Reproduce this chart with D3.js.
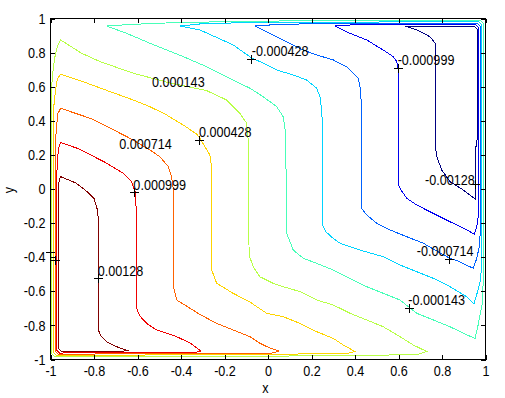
<!DOCTYPE html>
<html>
<head>
<meta charset="utf-8">
<script src="https://cdn.jsdelivr.net/npm/d3@7"></script>
<style>
  body { margin: 0; background: #fff; }
  svg { display: block; }
  text { font-family: "Liberation Sans", Arial, sans-serif; }
</style>
</head>
<body>
<svg id="viz" width="505" height="398"></svg>
<script>
// contour levels and their label strings
const levels = [0.00128, 0.000999, 0.000714, 0.000428, 0.000143,
                -0.000143, -0.000428, -0.000714, -0.000999, -0.00128];
const levelText = ["0.00128", "0.000999", "0.000714", "0.000428", "0.000143",
                   "-0.000143", "-0.000428", "-0.000714", "-0.000999", "-0.00128"];

// one closed contour line per level, [x, y] in data units
const line00128 = [[-0.954,0.073],[-0.883,0.035],[-0.832,-0.015],[-0.800,-0.056],[-0.784,-0.123],[-0.780,-0.182],
  [-0.780,-0.827],[-0.768,-0.862],[-0.742,-0.896],[-0.696,-0.925],[-0.639,-0.950],[-0.775,-0.951],[-0.950,-0.953],
  [-0.964,-0.935],[-0.964,0.006],[-0.961,0.043]];
const line000999 = [[-0.953,0.272],[-0.877,0.239],[-0.754,0.160],[-0.665,0.092],[-0.627,0.043],[-0.611,-0.016],
  [-0.607,-0.065],[-0.604,-0.700],[-0.589,-0.745],[-0.558,-0.788],[-0.512,-0.827],[-0.420,-0.866],[-0.359,-0.903],
  [-0.309,-0.950],[-0.330,-0.958],[-0.958,-0.962],[-0.972,-0.944],[-0.972,0.100],[-0.969,0.121],[-0.966,0.199],
  [-0.961,0.248]];
const line000714 = [[-0.953,0.473],[-0.818,0.415],[-0.726,0.357],[-0.619,0.287],[-0.543,0.229],[-0.497,0.189],
  [-0.458,0.131],[-0.443,0.072],[-0.435,-0.006],[-0.435,-0.570],[-0.420,-0.651],[-0.374,-0.687],[-0.313,-0.736],
  [-0.236,-0.788],[-0.160,-0.827],[-0.083,-0.866],[-0.037,-0.905],[0.009,-0.933],[0.051,-0.950],[0.020,-0.962],
  [-0.965,-0.969],[-0.979,-0.951],[-0.979,0.170],[-0.977,0.276],[-0.972,0.370],[-0.966,0.443]];
const line000428 = [[-0.953,0.673],[-0.849,0.629],[-0.726,0.571],[-0.619,0.522],[-0.543,0.483],[-0.466,0.434],
  [-0.389,0.375],[-0.328,0.322],[-0.313,0.297],[-0.290,0.248],[-0.267,0.199],[-0.259,0.123],[-0.259,-0.475],
  [-0.236,-0.553],[-0.160,-0.612],[-0.083,-0.663],[-0.006,-0.729],[0.070,-0.749],[0.147,-0.788],[0.224,-0.837],
  [0.300,-0.876],[0.346,-0.915],[0.400,-0.953],[0.360,-0.966],[-0.973,-0.977],[-0.987,-0.959],[-0.987,0.405],
  [-0.984,0.493],[-0.977,0.581],[-0.968,0.648]];
const line000143 = [[-0.953,0.874],[-0.857,0.796],[-0.772,0.747],[-0.619,0.679],[-0.451,0.622],[-0.282,0.577],
  [-0.190,0.522],[-0.129,0.444],[-0.098,0.385],[-0.091,0.287],[-0.087,-0.387],[-0.068,-0.456],[-0.037,-0.515],
  [0.024,-0.553],[0.070,-0.573],[0.147,-0.602],[0.224,-0.651],[0.300,-0.680],[0.377,-0.729],[0.454,-0.768],
  [0.530,-0.808],[0.607,-0.866],[0.668,-0.915],[0.730,-0.953],[0.690,-0.970],[0.400,-0.978],[-0.980,-0.985],
  [-0.994,-0.967],[-0.994,0.610],[-0.989,0.688],[-0.981,0.767],[-0.969,0.835]];
const lineM000143 = [[-0.742,0.956],[-0.650,0.913],[-0.543,0.855],[-0.389,0.776],[-0.282,0.717],[-0.160,0.639],
  [-0.083,0.591],[-0.022,0.541],[0.040,0.483],[0.070,0.424],[0.081,0.327],[0.086,-0.260],[0.116,-0.358],
  [0.162,-0.406],[0.224,-0.436],[0.300,-0.475],[0.377,-0.524],[0.454,-0.573],[0.530,-0.612],[0.607,-0.651],
  [0.684,-0.729],[0.760,-0.768],[0.837,-0.808],[0.898,-0.846],[0.952,-0.877],[0.966,-0.798],[0.984,-0.680],
  [0.990,-0.534],[0.990,0.971],[0.976,0.989],[0.147,0.987],[-0.405,0.977],[-0.634,0.965]];
const lineM000428 = [[-0.405,0.956],[-0.313,0.933],[-0.160,0.845],[-0.075,0.768],[-0.022,0.739],[0.040,0.698],
  [0.116,0.669],[0.178,0.639],[0.224,0.591],[0.239,0.541],[0.247,0.463],[0.251,0.346],[0.251,-0.211],
  [0.267,-0.252],[0.300,-0.290],[0.331,-0.318],[0.423,-0.358],[0.530,-0.397],[0.607,-0.446],[0.684,-0.485],
  [0.760,-0.524],[0.837,-0.573],[0.914,-0.632],[0.947,-0.674],[0.963,-0.604],[0.975,-0.545],[0.983,-0.446],
  [0.983,0.963],[0.969,0.981],[0.377,0.979],[-0.083,0.977],[-0.313,0.968]];
const lineM000714 = [[-0.060,0.956],[0.009,0.913],[0.086,0.864],[0.162,0.815],[0.224,0.786],[0.300,0.757],
  [0.362,0.717],[0.392,0.679],[0.415,0.649],[0.423,0.600],[0.428,0.522],[0.428,-0.111],[0.454,-0.152],
  [0.500,-0.201],[0.561,-0.240],[0.638,-0.280],[0.714,-0.318],[0.791,-0.375],[0.834,-0.405],[0.868,-0.420],
  [0.944,-0.465],[0.960,-0.406],[0.970,-0.346],[0.975,-0.270],[0.975,0.954],[0.961,0.972],[0.515,0.972],
  [0.147,0.968],[0.009,0.962]];
const lineM000999 = [[0.308,0.956],[0.377,0.913],[0.454,0.874],[0.530,0.815],[0.576,0.776],[0.592,0.747],
  [0.599,0.698],[0.599,0.023],[0.615,-0.012],[0.638,-0.055],[0.684,-0.094],[0.760,-0.143],[0.837,-0.192],
  [0.914,-0.240],[0.949,-0.266],[0.961,-0.211],[0.968,-0.152],[0.968,0.946],[0.954,0.964],[0.607,0.964],
  [0.377,0.962]];
const lineM00128 = [[0.630,0.956],[0.684,0.933],[0.745,0.893],[0.768,0.855],[0.772,0.796],[0.772,0.229],
  [0.776,0.189],[0.799,0.111],[0.837,0.043],[0.898,-0.006],[0.952,-0.059],[0.954,0.229],[0.961,0.287],
  [0.961,0.938],[0.947,0.956]];
const contourLines = [line00128, line000999, line000714, line000428, line000143,
                      lineM000143, lineM000428, lineM000714, lineM000999, lineM00128];

// clabel: which level, "+" marker point, text start point (data units)
const labelLevel = [0, 1, 2, 3, 4, 5, 6, 7, 8, 9];
const labelMark  = [[-0.780,-0.522],[-0.615,-0.022],null,[-0.316,0.287],null,
                    [0.650,-0.700],[-0.075,0.761],[0.834,-0.411],[0.598,0.706],[0.956,0.028]];
const labelText  = [[-0.783,-0.510],[-0.619,-0.006],[-0.684,0.233],[-0.317,0.306],[-0.533,0.598],
                    [0.645,-0.680],[-0.075,0.778],[0.684,-0.393],[0.596,0.727],[0.722,0.021]];
// markers whose text is not shown
const extraMarks = [[-1.0,-0.374],[-0.979,-0.421]];

const xTicks = [-1, -0.8, -0.6, -0.4, -0.2, 0, 0.2, 0.4, 0.6, 0.8, 1];
const xTickLabels = ["-1", "-0.8", "-0.6", "-0.4", "-0.2", "0", "0.2", "0.4", "0.6", "0.8", "1"];
const yTicks = [-1, -0.8, -0.6, -0.4, -0.2, 0, 0.2, 0.4, 0.6, 0.8, 1];
const yTickLabels = ["-1", "-0.8", "-0.6", "-0.4", "-0.2", "0", "0.2", "0.4", "0.6", "0.8", "1"];

let svg = d3.select("#viz");

const pLeft = 50.5, pRight = 485.5, pTop = 18.5, pBottom = 359.5;
const fs = 14.5, sx = 0.87;   // narrow tall font like the original

let x = d3.scaleLinear().domain([-1, 1]).range([pLeft, pRight]);
let y = d3.scaleLinear().domain([-1, 1]).range([pBottom, pTop]);

// jet colormap over the level range
let jet = d3.scaleLinear()
    .domain([0, 0.125, 0.375, 0.625, 0.875, 1])
    .range(["#000080", "#0000ff", "#00ffff", "#ffff00", "#ff0000", "#800000"]);
let color = d3.scaleLinear().domain(d3.extent(levels)).range([0, 1]);

svg.append("rect").attr("width", 505).attr("height", 398).attr("fill", "#fff");

let line = d3.line().x(d => x(d[0])).y(d => y(d[1]));

svg.append("g").selectAll("path")
    .data(contourLines)
    .join("path")
    .attr("d", d => line(d) + "Z")
    .attr("fill", "none")
    .attr("stroke", (d, i) => jet(color(levels[i])))
    .attr("stroke-width", 1)
    .attr("shape-rendering", "crispEdges");

// axes box and inward ticks on all four sides
let fmtX = (d, i) => xTickLabels[i];
let fmtY = (d, i) => yTickLabels[i];

let gx = svg.append("g").attr("transform", `translate(0,${pBottom})`)
    .call(d3.axisBottom(x).tickValues(xTicks).tickSize(-4.5).tickPadding(6.5).tickFormat(fmtX));
let gy = svg.append("g").attr("transform", `translate(${pLeft},0)`)
    .call(d3.axisLeft(y).tickValues(yTicks).tickSize(-4.5).tickPadding(5).tickFormat(fmtY));
let gt = svg.append("g").attr("transform", `translate(0,${pTop})`)
    .call(d3.axisTop(x).tickValues(xTicks).tickSize(-4.5).tickFormat(""));
let gr = svg.append("g").attr("transform", `translate(${pRight},0)`)
    .call(d3.axisRight(y).tickValues(yTicks).tickSize(-4.5).tickFormat(""));

[gx, gy, gt, gr].forEach(g => {
    g.select(".domain").remove();
    g.selectAll("line").attr("stroke", "#000").attr("shape-rendering", "crispEdges");
    g.selectAll("text")
        .attr("fill", "#000")
        .style("font-family", "'Liberation Sans', Arial, sans-serif")
        .style("font-size", fs + "px");
});
gx.selectAll("text").attr("transform", `scale(${sx},1)`);
gy.selectAll("text").attr("x", -5 / sx).attr("transform", `scale(${sx},1)`);

svg.append("rect")
    .attr("x", pLeft).attr("y", pTop)
    .attr("width", pRight - pLeft).attr("height", pBottom - pTop)
    .attr("fill", "none").attr("stroke", "#000")
    .attr("shape-rendering", "crispEdges");

// contour labels
let plus = d => `M${x(d[0]) - 4.5},${y(d[1])}H${x(d[0]) + 4.5}M${x(d[0])},${y(d[1]) - 4.5}V${y(d[1]) + 4.5}`;
let marks = labelMark.filter(d => d).concat(extraMarks);
svg.append("g").selectAll("path")
    .data(marks)
    .join("path")
    .attr("d", plus)
    .attr("stroke", "#000")
    .attr("fill", "none")
    .attr("shape-rendering", "crispEdges");

svg.append("g").selectAll("text")
    .data(labelLevel)
    .join("text")
    .attr("transform", (d, i) => `translate(${x(labelText[i][0])},${y(labelText[i][1])}) scale(${sx},1)`)
    .style("font-size", fs + "px")
    .attr("fill", "#000")
    .text(d => levelText[d]);

// axis titles
svg.append("text")
    .attr("transform", `translate(${x(0) - 2.5},392.5) scale(${sx},1)`)
    .attr("text-anchor", "middle")
    .style("font-size", fs + "px")
    .text("x");
svg.append("text")
    .attr("transform", `translate(13.5,${y(0) + 1}) rotate(-90) scale(${sx},1)`)
    .attr("text-anchor", "middle")
    .style("font-size", fs + "px")
    .text("y");
</script>
</body>
</html>
